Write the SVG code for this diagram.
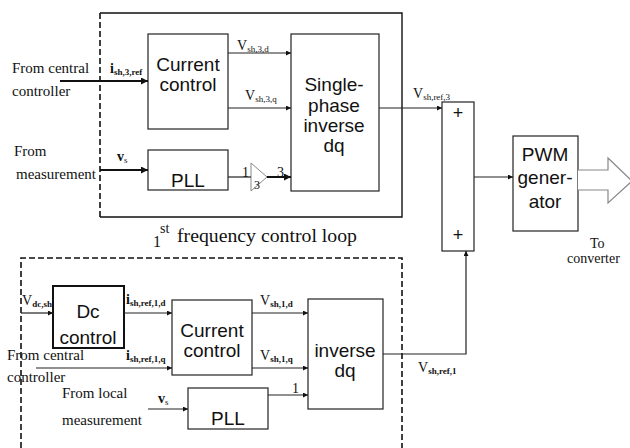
<svg xmlns="http://www.w3.org/2000/svg" width="630" height="448" viewBox="0 0 630 448">
<style>
.box{fill:#fff;stroke:#222;stroke-width:1.2}
.lbl{font-family:"Liberation Sans",Arial,sans-serif;font-size:19px;fill:#111;text-anchor:middle}
.s{font-family:"Liberation Serif","Times New Roman",serif;font-size:15px;fill:#111}
.v{font-family:"Liberation Serif","Times New Roman",serif;font-size:14px;fill:#111}
.sub{font-size:9px}
.b{font-weight:bold}
.ln{fill:none;stroke:#222;stroke-width:1.2}
.thk{fill:none;stroke:#111;stroke-width:2}
.dash{fill:none;stroke:#111;stroke-width:1.6;stroke-dasharray:6,3}
</style>
<defs>
<marker id="ah" viewBox="0 0 10 10" refX="10" refY="5" markerWidth="7" markerHeight="5" markerUnits="userSpaceOnUse" orient="auto">
<path d="M0,0 L10,5 L0,10 z" fill="#111"/>
</marker>
<marker id="ahb" viewBox="0 0 10 10" refX="10" refY="5" markerWidth="10" markerHeight="7" markerUnits="userSpaceOnUse" orient="auto">
<path d="M0,0 L10,5 L0,10 z" fill="#111"/>
</marker>
</defs>

<g id="frame3">
<path d="M100,13 H402 V217 H100" fill="none" stroke="#111" stroke-width="1.4"/>
<line x1="100" y1="13" x2="100" y2="217" class="dash"/>
<text class="s" x="153" y="247" style="font-size:16px">1</text>
<text class="s" x="160" y="233" style="font-size:14px">st</text>
<text class="s" x="177" y="242" style="font-size:18px" textLength="180" lengthAdjust="spacingAndGlyphs">frequency control loop</text>
</g>
<g id="frame1">
<path d="M21,448 V258 H402 V448" class="dash"/>
</g>

<g id="cc3"><rect class="box" x="148" y="34" width="80" height="95"/>
<text class="lbl" x="188" y="71">Current</text><text class="lbl" x="188" y="91">control</text></g>
<g id="pll3"><rect class="box" x="148" y="150" width="80" height="40"/>
<text class="lbl" x="188" y="187">PLL</text></g>
<g id="sid"><rect class="box" x="291" y="34" width="88" height="157"/>
<text class="lbl" x="334" y="91">Single-</text><text class="lbl" x="334" y="112">phase</text>
<text class="lbl" x="334" y="132">inverse</text><text class="lbl" x="334" y="152">dq</text></g>
<g id="gain"><path d="M251,163 L267,177 L251,191 Z" fill="#fff" stroke="#888" stroke-width="1"/>
<text class="v" x="254" y="189" style="font-size:12px">3</text></g>
<g id="sum"><rect class="box" x="442" y="102" width="32" height="149"/>
<text class="lbl" x="458" y="119" style="font-size:18px">+</text>
<text class="lbl" x="458" y="241" style="font-size:18px">+</text></g>
<g id="pwm"><rect class="box" x="513" y="136" width="65" height="95"/>
<text class="lbl" x="545" y="161">PWM</text><text class="lbl" x="545" y="184">gener-</text><text class="lbl" x="545" y="208">ator</text></g>
<g id="out"><path d="M578,170 H608 V158 L632,181 L608,203 V190 H578" fill="#fff" stroke="#888" stroke-width="1.2"/>
<text class="s" x="590" y="248" style="font-size:14px">To</text><text class="s" x="567" y="263" style="font-size:14px">converter</text></g>

<g id="dc"><rect x="53" y="286" width="71" height="62" fill="#fff" stroke="#111" stroke-width="2"/>
<text class="lbl" x="88" y="318">Dc</text><text class="lbl" x="88" y="344">control</text></g>
<g id="cc1"><rect class="box" x="172" y="300" width="80" height="75"/>
<text class="lbl" x="212" y="337">Current</text><text class="lbl" x="212" y="357">control</text></g>
<g id="pll1"><rect class="box" x="188" y="388" width="80" height="41"/>
<text class="lbl" x="228" y="425">PLL</text></g>
<g id="idq"><rect class="box" x="308" y="299" width="75" height="110"/>
<text class="lbl" x="345" y="357">inverse</text><text class="lbl" x="345" y="377">dq</text></g>

<g id="connectors">
<line class="thk" x1="60" y1="81" x2="148" y2="81" marker-end="url(#ahb)"/>
<line class="thk" x1="100" y1="170" x2="148" y2="170" marker-end="url(#ahb)"/>
<line class="ln" x1="228" y1="53" x2="291" y2="53" marker-end="url(#ah)"/>
<line class="ln" x1="228" y1="108" x2="291" y2="108" marker-end="url(#ah)"/>
<line class="ln" x1="228" y1="177" x2="251" y2="177" stroke="#666"/>
<line class="thk" x1="267" y1="177" x2="291" y2="177" marker-end="url(#ahb)"/>
<line class="ln" x1="379" y1="108" x2="442" y2="108" marker-end="url(#ah)"/>
<line class="ln" x1="474" y1="177" x2="513" y2="177" marker-end="url(#ah)"/>
<line class="ln" x1="21" y1="313" x2="53" y2="313" marker-end="url(#ah)"/>
<line class="ln" x1="124" y1="313" x2="172" y2="313" marker-end="url(#ah)"/>
<line class="ln" x1="36" y1="368" x2="172" y2="368" marker-end="url(#ah)"/>
<line class="ln" x1="148" y1="409" x2="188" y2="409" marker-end="url(#ah)"/>
<line class="ln" x1="252" y1="313" x2="308" y2="313" marker-end="url(#ah)"/>
<line class="ln" x1="252" y1="368" x2="308" y2="368" marker-end="url(#ah)"/>
<line class="ln" x1="268" y1="395" x2="308" y2="395" marker-end="url(#ah)"/>
<path class="ln" d="M383,354 H466 V251" stroke="#555" marker-end="url(#ah)"/>
</g>

<g id="labels">
<text class="s" x="12" y="73">From central</text>
<text class="s" x="12" y="96">controller</text>
<text class="s" x="14" y="156">From</text>
<text class="s" x="16" y="179">measurement</text>
<text class="v" x="110" y="73"><tspan class="b">i</tspan><tspan class="sub b" dy="2">sh,3,ref</tspan></text>
<text class="v" x="117" y="161"><tspan class="b">v</tspan><tspan class="sub" dy="2">s</tspan></text>
<text class="v" x="237" y="50">V<tspan class="sub" dy="2">sh,3,d</tspan></text>
<text class="v" x="245" y="100">V<tspan class="sub" dy="2">sh,3,q</tspan></text>
<text class="v" x="242" y="177">1</text>
<text class="v" x="277" y="177">3</text>
<text class="v" x="413" y="98">V<tspan class="sub" dy="2">sh,ref,3</tspan></text>
<text class="v" x="22" y="305">V<tspan class="sub b" dy="2">dc,sh</tspan></text>
<text class="v" x="126" y="304"><tspan class="b">i</tspan><tspan class="sub b" dy="2">sh,ref,1,d</tspan></text>
<text class="s" x="7" y="360">From central</text>
<text class="s" x="7" y="382">controller</text>
<text class="v" x="126" y="360"><tspan class="b">i</tspan><tspan class="sub b" dy="2">sh,ref,1,q</tspan></text>
<text class="v" x="260" y="305">V<tspan class="sub b" dy="2">sh,1,d</tspan></text>
<text class="v" x="260" y="360">V<tspan class="sub b" dy="2">sh,1,q</tspan></text>
<text class="v" x="292" y="393">1</text>
<text class="s" x="62" y="398">From local</text>
<text class="s" x="62" y="425">measurement</text>
<text class="v" x="158" y="403"><tspan class="b">v</tspan><tspan class="sub" dy="2">s</tspan></text>
<text class="v" x="418" y="372">V<tspan class="sub b" dy="2">sh,ref,1</tspan></text>
</g>
</svg>
